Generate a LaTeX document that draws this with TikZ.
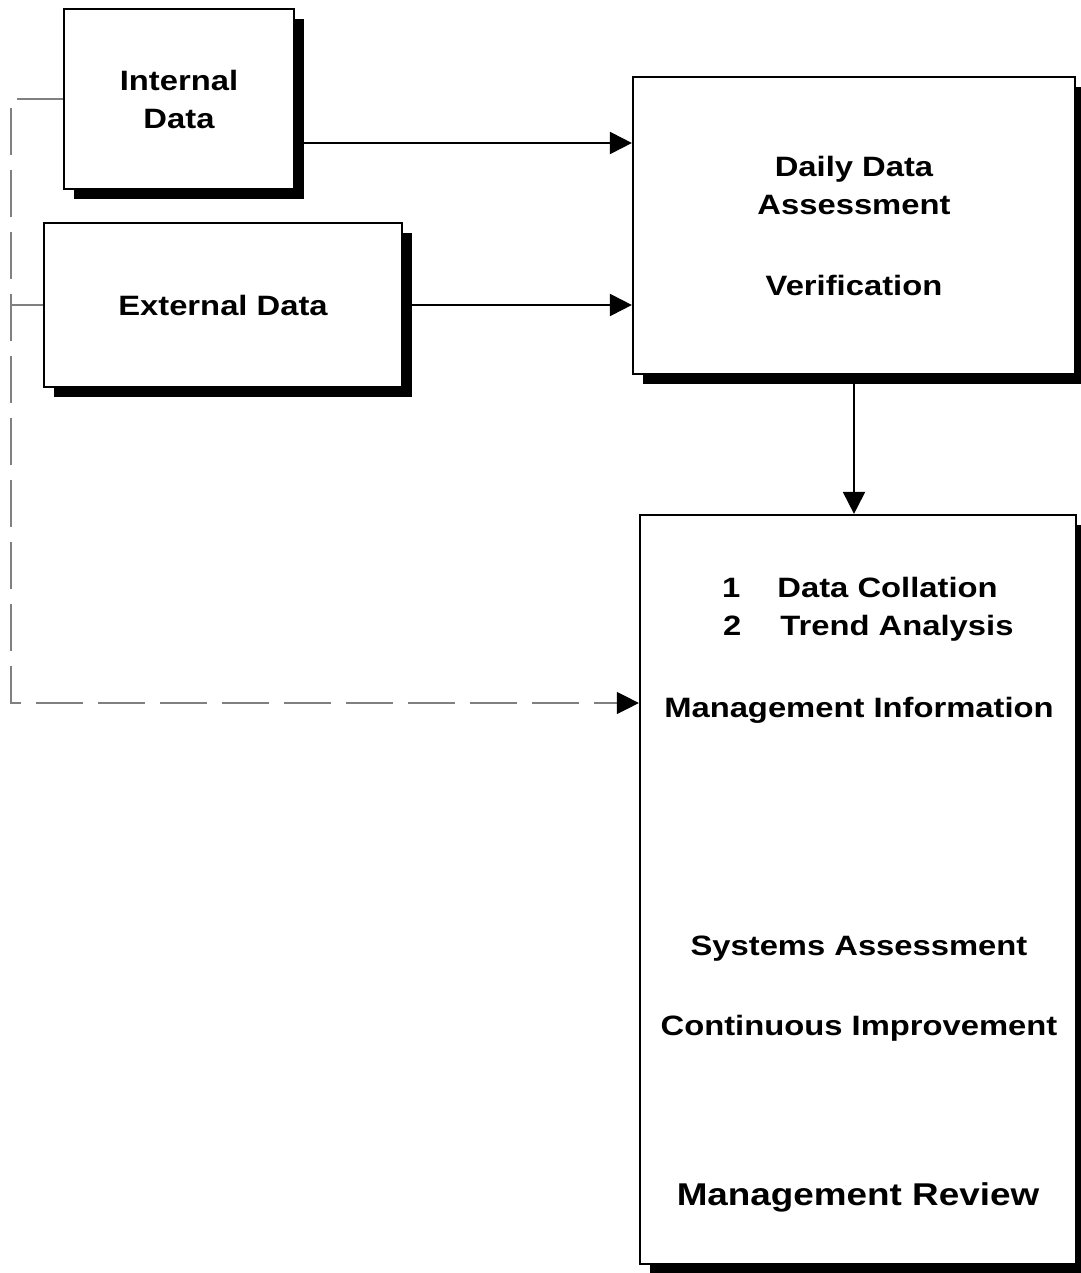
\documentclass[tikz,border=0pt]{standalone}
\usepackage{fontspec}
\setmainfont{Liberation Sans}[FakeStretch=1.17]
\usepackage{xcolor}
\definecolor{busgray}{RGB}{128, 128, 128}
\usetikzlibrary{arrows.meta, positioning, shadows}

\begin{document}
\begin{tikzpicture}[x=1pt, y=-1pt,
    box/.style={draw, line width=2.2pt, fill=white, inner sep=0pt, align=center,
        font=\fontsize{28}{38}\selectfont\bfseries,
        drop shadow={shadow xshift=10pt, shadow yshift=-10pt, fill=black, opacity=1}},
    txt/.style={inner sep=0pt, font=\fontsize{28}{38}\selectfont\bfseries},
    bigtxt/.style={inner sep=0pt, font=\fontsize{31.5}{40}\selectfont\bfseries},
    flow/.style={line width=2pt, -{Triangle[length=22pt, width=22pt]}},
    feed/.style={line width=1.3pt, busgray},
    bus/.style={feed, dash pattern=on 47pt off 15pt, -{Triangle[length=22pt, width=22pt, color=black]}}]
    \useasboundingbox (0,0) rectangle (1080,1273);

    % source boxes
    \node[box, minimum width=230pt, minimum height=180pt] (intdata) at (179,99) {Internal\\Data};
    \node[box, minimum width=358pt, minimum height=164pt] (extdata) at (223,305) {External Data};

    % processing boxes
    \node[box, minimum width=442pt, minimum height=297pt] (daily) at (854,225.5)
        {Daily Data\\Assessment\\[43pt]Verification};
    \node[box, minimum width=436pt, minimum height=749pt] (mreview) at (858,889.5) {};

    \node[txt, anchor=base west] (collate) at (722,597) {1\hspace{37pt}Data Collation};
    \node[txt, anchor=base west] (trend) at (723,635) {2\hspace{39pt}Trend Analysis};
    \node[txt, anchor=base] (mgmtinfo) at (859,717) {Management Information};
    \node[txt, anchor=base] (sysassess) at (859,955) {Systems Assessment};
    \node[txt, anchor=base] (improve) at (859,1035) {Continuous Improvement};
    \node[bigtxt, anchor=base] (revtitle) at (858,1205) {Management Review};

    % solid data flow
    \coordinate (intout) at ([yshift=-44pt]intdata.east);
    \draw[flow] (intout) -- (intout -| daily.west);
    \draw[flow] (extdata.east) -- (extdata.east -| daily.west);
    \draw[flow] (daily.south) -- (daily.south |- mreview.north);

    % dashed feed into the review box
    \coordinate (inttap) at (17,99);
    \coordinate (exttap) at (12,305);
    \coordinate (bustop) at (11,108);
    \coordinate (buscorner) at (11,703);
    \draw[feed] (inttap) -- (intdata.west);
    \draw[feed] (exttap) -- (extdata.west);
    \draw[bus] (bustop) -- (buscorner) -- (buscorner -| mreview.west);
\end{tikzpicture}
\end{document}
